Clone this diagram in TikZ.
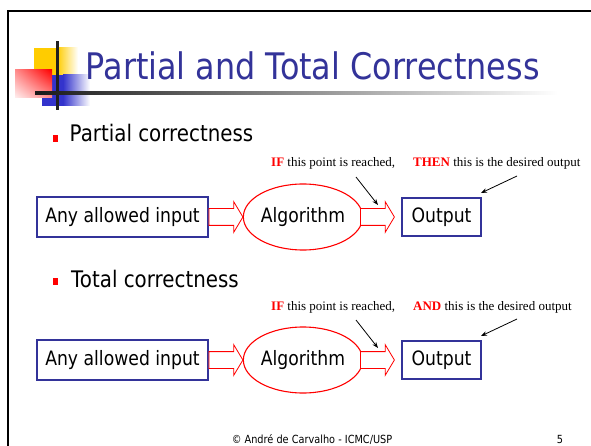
\documentclass[tikz,border=0pt]{standalone}
\usepackage{fontspec}
\setmainfont{DejaVu Sans}[FakeStretch=0.87]
\newfontfamily\notefont{Liberation Serif}
\usepackage{xcolor}
\usepackage{tikz}
\usetikzlibrary{arrows.meta,shapes.geometric,shapes.arrows,shadings}
\definecolor{slideblue}{RGB}{51,51,153}
\definecolor{slidered}{RGB}{255,0,0}
\definecolor{logoyellow}{RGB}{255,204,0}
\definecolor{logoblue}{RGB}{51,51,204}
\tikzset{
  titletxt/.style  = {anchor=base west, inner sep=0pt, text=slideblue,
                      font=\fontsize{36.6}{40}\selectfont},
  bulletsq/.style  = {fill=slidered, minimum width=5.5pt, minimum height=6.5pt,
                      inner sep=0pt},
  bullettxt/.style = {anchor=base west, inner sep=0pt,
                      font=\fontsize{22.8}{26}\selectfont},
  inbox/.style     = {draw=slideblue, line width=1.1pt, minimum width=171pt,
                      minimum height=40pt, inner sep=0pt,
                      font=\fontsize{19.8}{24}\selectfont},
  outbox/.style    = {inbox, minimum width=79pt, minimum height=38pt},
  algnode/.style   = {ellipse, draw=slidered, line width=1.1pt, minimum width=104pt,
                      minimum height=66pt, inner sep=0pt,
                      font=\fontsize{19.8}{24}\selectfont},
  hollowarr/.style = {single arrow, draw=slidered, fill=white, line width=0.8pt,
                      minimum height=34pt, inner xsep=0pt, inner ysep=8pt,
                      single arrow head extend=7pt, single arrow tip angle=118,
                      anchor=tail},
  notetxt/.style   = {anchor=base west, inner sep=0pt,
                      font=\notefont\fontsize{13}{15}\selectfont},
  noteedge/.style  = {-{Stealth[length=6pt,width=4.5pt]}, line width=0.8pt},
  foottxt/.style   = {anchor=base, inner sep=0pt, font=\fontsize{11.2}{13}\selectfont}
}
\newcommand{\notekey}[1]{{\bfseries\color{slidered}#1}}

\begin{document}
\begin{tikzpicture}[x=1pt, y=-1pt]
  \useasboundingbox (0,0) rectangle (591,446);
  % Slide frame
  \draw[line width=2.6pt, line join=miter] (8,446) -- (8,11) -- (591,11);
  % Logo
  \fill[logoyellow] (34,48) rectangle (57,76);
  \shade[left color=logoyellow, right color=white] (57,48) rectangle (78,76);
  \fill[logoblue] (42,75) rectangle (63,106);
  \shade[left color=logoblue, right color=white] (63,75) rectangle (90,106);
  \shade[upper right=slidered, lower left=red!6, upper left=red!45, lower right=red!45]
    (15,70) rectangle (52,98);
  \fill[black!88] (55.5,41) rectangle (58.5,110);
  \shade[left color=black!90, right color=white] (35,91.5) rectangle (558,94.5);
  % Title
  \node[titletxt] (title) at (85.5,80) {Partial and Total Correctness};
  % Partial correctness
  \node[bulletsq]  (b1)  at (55.5,138.5) {};
  \node[bullettxt] (t1)  at (69.5,142) {Partial correctness};
  \node[inbox]     (in1)   at (122.5,217) {Any allowed input};
  \node[hollowarr] (arrA1) at (208.5,217) {};
  \node[algnode]   (alg1)  at (303,217) {Algorithm};
  \node[hollowarr] (arrB1) at (360,217) {};
  \node[outbox]    (out1)  at (441.5,217) {Output};
  \node[notetxt] (if1)   at (271,167) {\notekey{IF} this point is reached,};
  \node[notetxt] (then1) at (413,167) {\notekey{THEN} this is the desired output};
  \coordinate (ifs1) at (356,177);  \coordinate (ife1) at (378,205);
  \coordinate (ths1) at (517,176);  \coordinate (the1) at (481,193);
  \draw[noteedge] (ifs1) -- (ife1);
  \draw[noteedge] (ths1) -- (the1);
  % Total correctness
  \node[bulletsq]  (b2)  at (55.5,281.5) {};
  \node[bullettxt] (t2)  at (71,287) {Total correctness};
  \node[inbox]     (in2)   at (122.5,360) {Any allowed input};
  \node[hollowarr] (arrA2) at (208.5,360) {};
  \node[algnode]   (alg2)  at (303,360) {Algorithm};
  \node[hollowarr] (arrB2) at (360,360) {};
  \node[outbox]    (out2)  at (441.5,360) {Output};
  \node[notetxt] (if2)  at (271,310) {\notekey{IF} this point is reached,};
  \node[notetxt] (and2) at (413,310) {\notekey{AND} this is the desired output};
  \coordinate (ifs2) at (356,320);  \coordinate (ife2) at (378,348);
  \coordinate (ans2) at (517,319);  \coordinate (ane2) at (481,336);
  \draw[noteedge] (ifs2) -- (ife2);
  \draw[noteedge] (ans2) -- (ane2);
  % Footer
  \node[foottxt] (foot)   at (312,443) {© André de Carvalho - ICMC/USP};
  \node[foottxt] (pageno) at (560,443) {5};
\end{tikzpicture}
\end{document}
